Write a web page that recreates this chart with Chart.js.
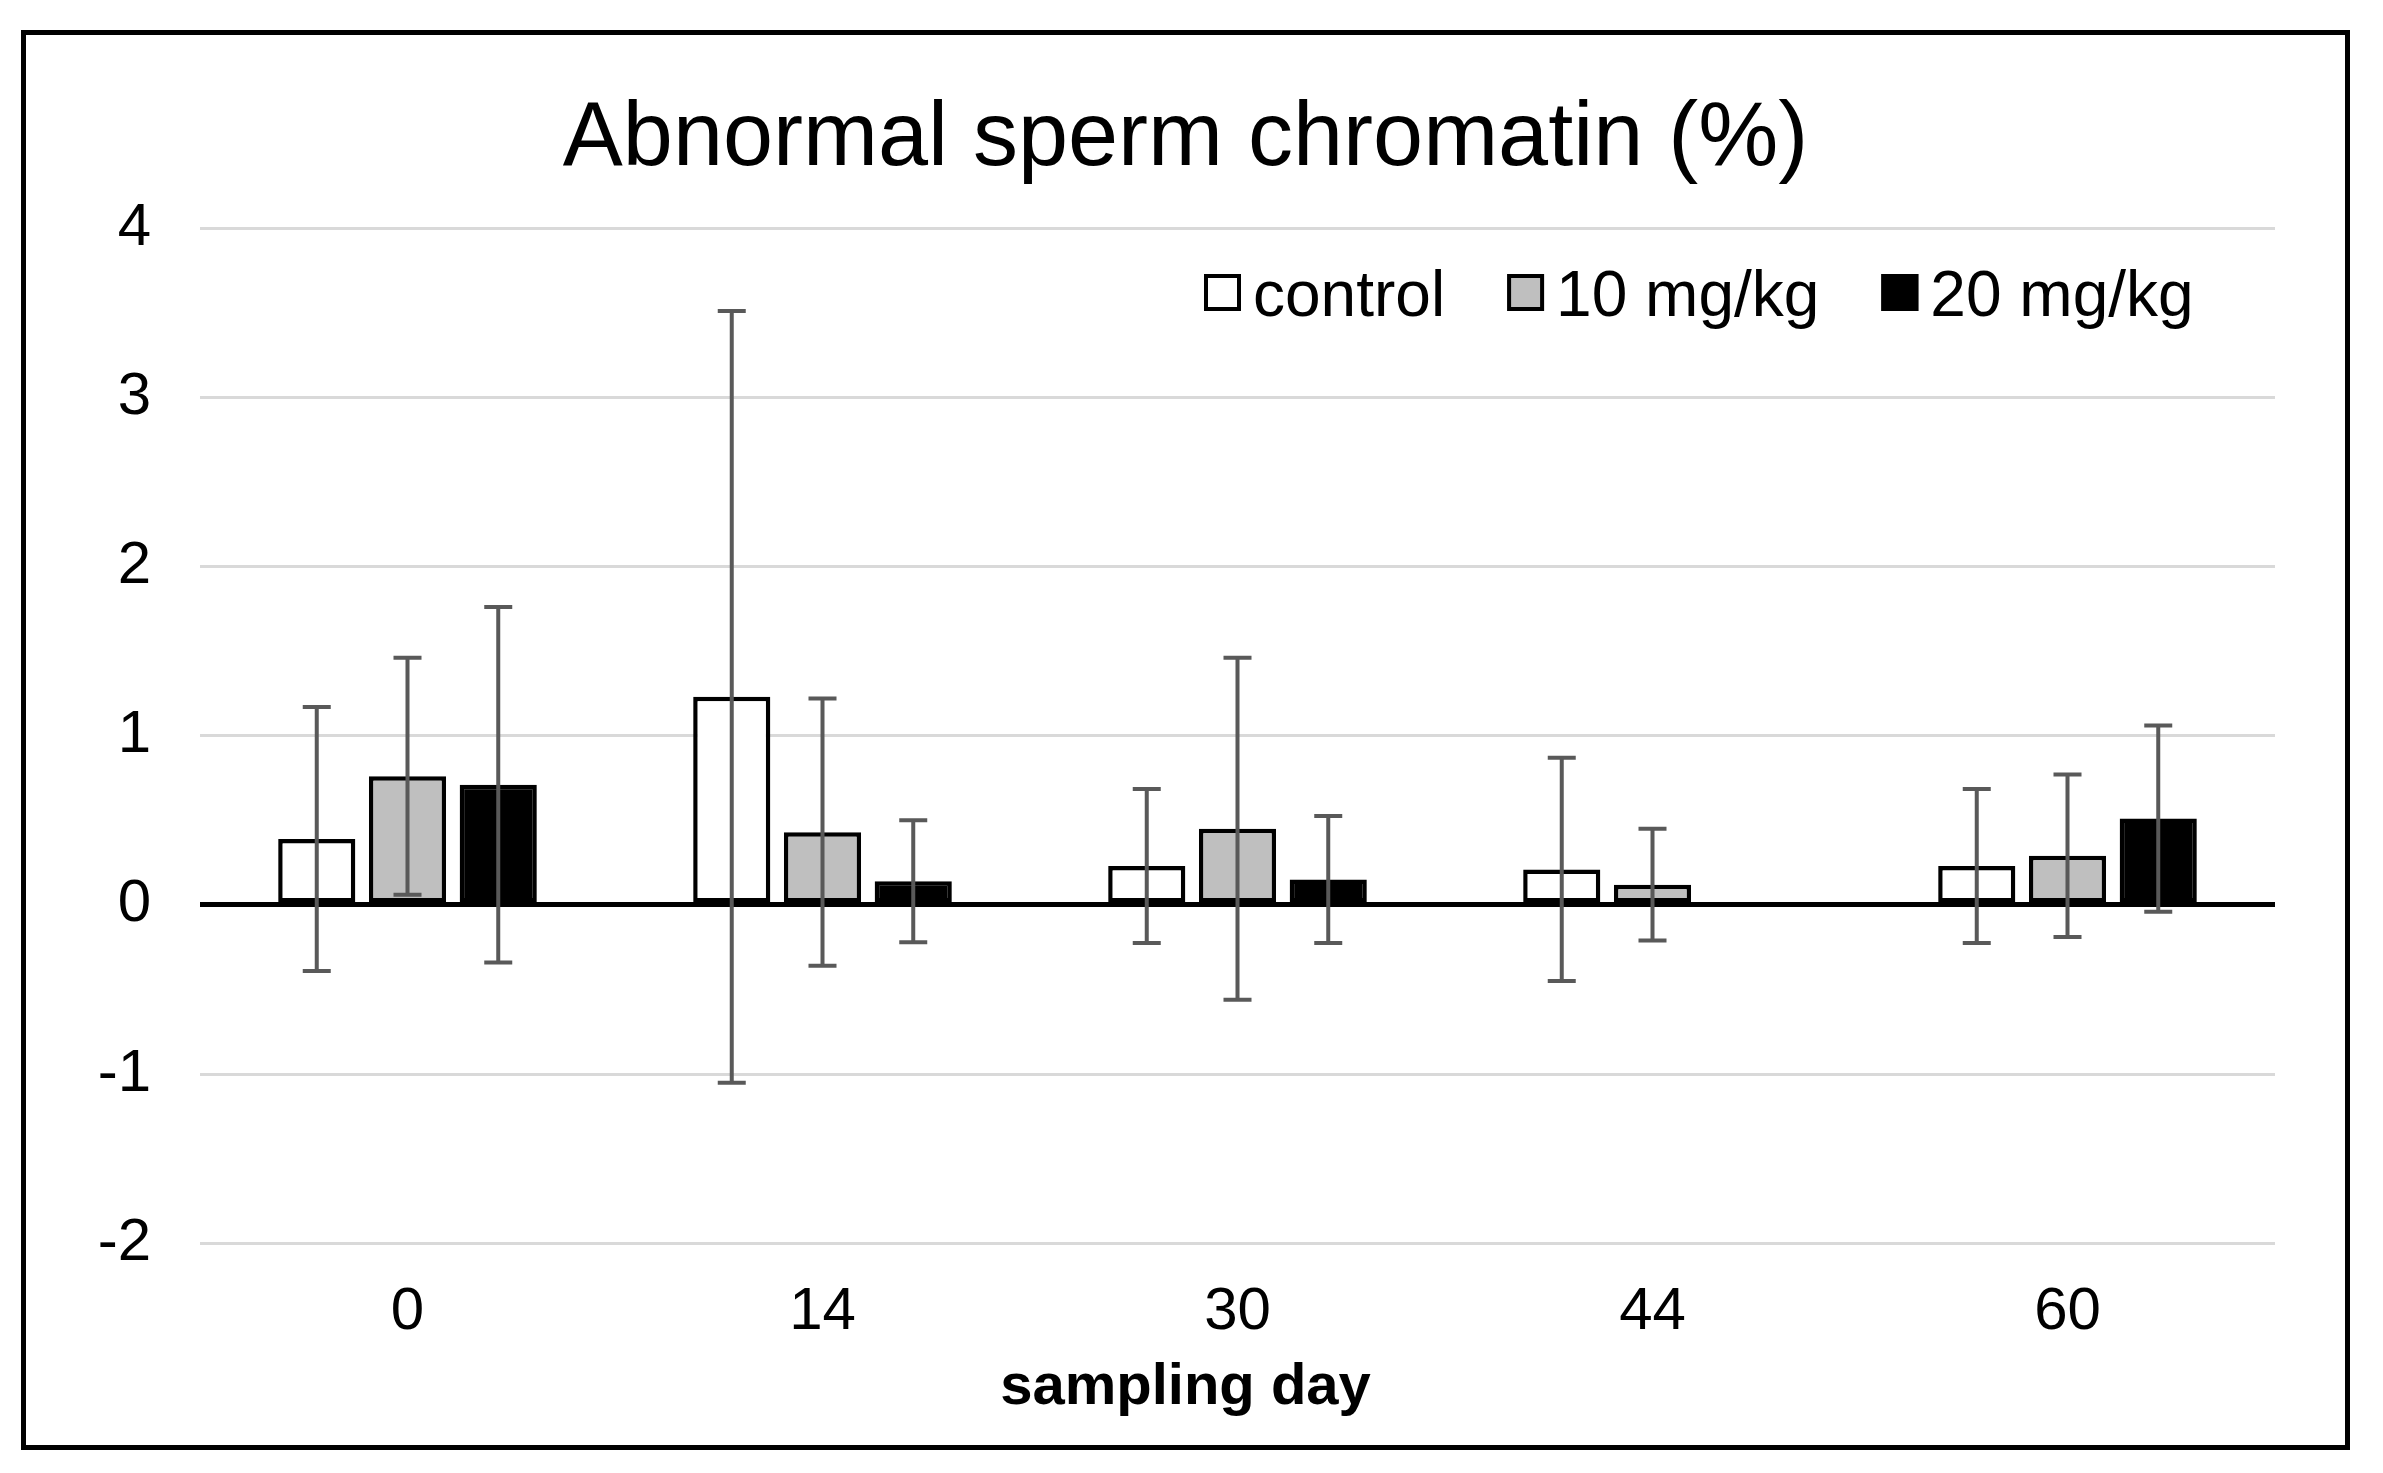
<!DOCTYPE html>
<html>
<head>
<meta charset="utf-8">
<script src="https://cdn.jsdelivr.net/npm/chart.js@4.4.1/dist/chart.umd.min.js"></script>
<style>
  html,body{margin:0;padding:0;background:#fff;}
  #frame{position:absolute;left:21px;top:30px;width:2319px;height:1410px;border:5px solid #000;background:#fff;}
  canvas{display:block;}
</style>
</head>
<body>
<div id="frame"><canvas id="chart" width="2319" height="1410"></canvas></div>
<script>
// sampling days and groups
const days = ['0', '14', '30', '44', '60'];
const groups = ['control', '10 mg/kg', '20 mg/kg'];

// means and SD (day 44, 20 mg/kg has no bar)
const controlMean = [0.39, 1.23, 0.23, 0.21, 0.23];
const controlSD   = [0.78, 2.28, 0.455, 0.66, 0.455];
const mg10Mean    = [0.76, 0.43, 0.45, 0.12, 0.29];
const mg10SD      = [0.70, 0.79, 1.01, 0.33, 0.48];
const mg20Mean    = [0.71, 0.14, 0.15, null, 0.51];
const mg20SD      = [1.05, 0.36, 0.375, null, 0.55];

const yMin = -2, yMax = 4, yStep = 1;

const fills = ['#ffffff', '#bfbfbf', '#000000'];

Chart.defaults.font.family = "'Liberation Sans', Arial, sans-serif";
Chart.defaults.color = '#000';

// error bars on top of each bar
const errorBars = {
  id: 'errorBars',
  afterDatasetsDraw(chart){
    const ctx = chart.ctx;
    const y = chart.scales.y;
    ctx.save();
    ctx.strokeStyle = '#595959';
    ctx.lineWidth = 4;
    chart.data.datasets.forEach((ds, i) => {
      const meta = chart.getDatasetMeta(i);
      meta.data.forEach((bar, j) => {
        const m = ds.data[j], sd = ds.errors[j];
        if(m == null || sd == null) return;
        const top = y.getPixelForValue(m + sd);
        const bot = y.getPixelForValue(m - sd);
        const x = bar.x, cap = 14;
        ctx.beginPath();
        ctx.moveTo(x, top); ctx.lineTo(x, bot);
        ctx.moveTo(x - cap, top); ctx.lineTo(x + cap, top);
        ctx.moveTo(x - cap, bot); ctx.lineTo(x + cap, bot);
        ctx.stroke();
      });
    });
    ctx.restore();
  }
};

// legend drawn inside the plot, top right
const innerLegend = {
  id: 'innerLegend',
  afterDraw(chart){
    const ctx = chart.ctx;
    ctx.save();
    ctx.font = "64px 'Liberation Sans', Arial, sans-serif";
    ctx.textBaseline = 'alphabetic';
    let x = 1178;
    const baseY = 281, box = 37;
    chart.data.datasets.forEach((ds) => {
      ctx.fillStyle = ds.backgroundColor;
      ctx.fillRect(x, baseY - 42, box, box);
      ctx.strokeStyle = '#000';
      ctx.lineWidth = 4;
      ctx.strokeRect(x + 2, baseY - 40, box - 4, box - 4);
      ctx.fillStyle = '#000';
      ctx.fillText(ds.label, x + box + 12, baseY);
      x += box + 12 + ctx.measureText(ds.label).width + 62;
    });
    ctx.restore();
  }
};

new Chart(document.getElementById('chart').getContext('2d'), {
  type: 'bar',
  data: {
    labels: days,
    datasets: [
      {label: groups[0], data: controlMean, errors: controlSD, backgroundColor: fills[0]},
      {label: groups[1], data: mg10Mean, errors: mg10SD, backgroundColor: fills[1]},
      {label: groups[2], data: mg20Mean, errors: mg20SD, backgroundColor: fills[2]}
    ].map(d => Object.assign(d, {borderColor: '#000', borderWidth: 4.5, borderSkipped: false,
      categoryPercentage: 0.656, barPercentage: 0.85}))
  },
  options: {
    responsive: false,
    animation: false,
    devicePixelRatio: 1,
    layout: {padding: {left: 35, right: 35, top: 0, bottom: 0}},
    plugins: {
      legend: {display: false},
      tooltip: {enabled: false},
      title: {
        display: true,
        text: 'Abnormal sperm chromatin (%)',
        font: {size: 90, weight: 'normal'},
        color: '#000',
        padding: {top: 51, bottom: 34}
      },
      subtitle: {
        display: true,
        position: 'bottom',
        text: 'sampling day',
        font: {size: 58, weight: 'bold'},
        color: '#000',
        padding: {top: 4, bottom: 22}
      }
    },
    scales: {
      x: {
        afterFit: s => { s.height -= 32; },
        grid: {display: false, drawTicks: false},
        border: {display: false},
        ticks: {font: {size: 60}, color: '#000', padding: 33}
      },
      y: {
        min: yMin, max: yMax,
        afterFit: s => { s.width = 139; },
        grid: {
          drawTicks: false,
          color: c => c.tick && c.tick.value === 0 ? '#000' : '#d9d9d9',
          lineWidth: c => c.tick && c.tick.value === 0 ? 5 : 3
        },
        border: {display: false},
        ticks: {stepSize: yStep, font: {size: 60}, color: '#000', padding: 49}
      },
      // empty right-hand axis, only keeps the plot clear of the frame
      spacer: {
        axis: 'y',
        position: 'right',
        min: yMin, max: yMax,
        afterFit: s => { s.width = 35; },
        grid: {display: false, drawTicks: false},
        border: {display: false},
        ticks: {display: false}
      }
    }
  },
  plugins: [errorBars, innerLegend]
});
</script>
</body>
</html>
